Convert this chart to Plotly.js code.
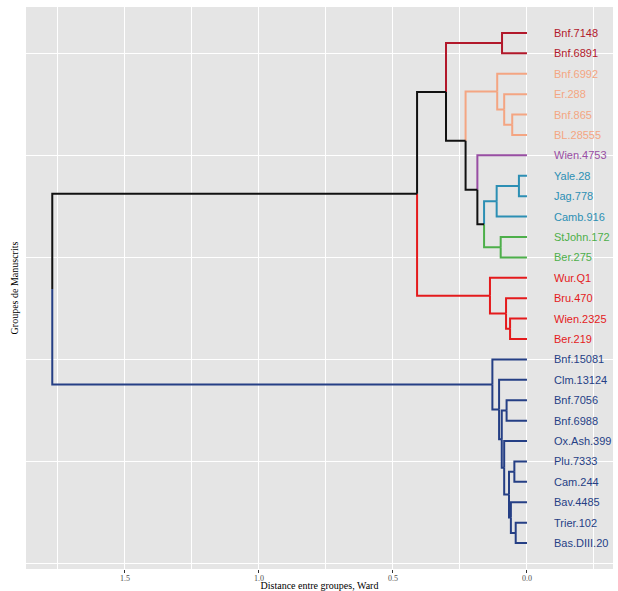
<!DOCTYPE html>
<html>
<head>
<meta charset="utf-8">
<script src="https://cdn.plot.ly/plotly-3.0.1.min.js"></script>
<style>
html,body{margin:0;padding:0;background:#fff;}
#chart{width:618px;height:591px;}
</style>
</head>
<body>
<div id="chart"></div>
<script>
// Leaves, from top to bottom
const leafLabels = ["Bnf.7148","Bnf.6891","Bnf.6992","Er.288","Bnf.865","BL.28555","Wien.4753",
  "Yale.28","Jag.778","Camb.916","StJohn.172","Ber.275","Wur.Q1","Bru.470","Wien.2325","Ber.219",
  "Bnf.15081","Clm.13124","Bnf.7056","Bnf.6988","Ox.Ash.399","Plu.7333","Cam.244","Bav.4485",
  "Trier.102","Bas.DIII.20"];
const leafGroups = [1,1,2,2,2,2,3,4,4,4,5,5,6,6,6,6,7,7,7,7,7,7,7,7,7,7];
const groupColors = ["#B2182B","#F4A582","#984EA3","#2C8FB4","#4DAF4A","#E41A1C","#253F85"];

// hclust-style merges: negative = leaf (1-based), positive = earlier merge (1-based)
const mergeA = [-8,-25,-22,-5,-24,-15, 3,-19,-14,-21,-4,-1, 8,-11,-18,-3, 1,-17,-13,17,-7,16,12,23,24];
const mergeB = [-9,-26,-23,-6,  2,-16, 5,-20,  6,  7, 4,-2,10,-12, 13,11,-10,15,  9,14,20,21,22,19,18];
const mergeHeight = [0.030,0.042,0.047,0.055,0.060,0.063,0.067,0.076,0.078,0.085,0.085,0.093,0.094,
  0.098,0.104,0.111,0.113,0.129,0.138,0.160,0.185,0.229,0.302,0.410,1.771];

const tickVals = [1.5,1.0,0.5,0.0];
const tickText = ["1.5","1.0","0.5","0.0"];

const nLeaves = leafLabels.length;
function leafColor(i){ return groupColors[leafGroups[i-1]-1]; }
const memo = {};
function node(ref){
  if (memo[ref]) return memo[ref];
  let r;
  if (ref < 0){
    const i = -ref;
    r = {y: nLeaves + 1 - i, h: 0, color: leafColor(i)};
  } else {
    const a = node(mergeA[ref-1]), b = node(mergeB[ref-1]);
    r = {y:(a.y+b.y)/2, h: mergeHeight[ref-1], color: a.color===b.color ? a.color : "#111111"};
  }
  memo[ref] = r;
  return r;
}
const segs = {};
for (let k = 1; k <= mergeA.length; k++){
  const p = node(k);
  [mergeA[k-1], mergeB[k-1]].forEach(c => {
    const ch = node(c);
    if (!segs[ch.color]) segs[ch.color] = {x:[], y:[]};
    segs[ch.color].x.push(p.h, p.h, ch.h, null);
    segs[ch.color].y.push(p.y, ch.y, ch.y, null);
  });
}
const traces = Object.keys(segs).map(col => ({
  type:"scatter", mode:"lines", x:segs[col].x, y:segs[col].y,
  line:{color:col, width:2}, hoverinfo:"skip", showlegend:false
}));

const annotations = leafLabels.map((lab,i) => ({
  x:-0.093, y:nLeaves - i, xref:"x", yref:"y", text:lab, showarrow:false,
  xanchor:"left", yanchor:"middle",
  font:{family:"Liberation Sans, Arial, sans-serif", size:11, color:leafColor(i+1)}
}));

const layout = {
  width:618, height:591,
  margin:{l:26, r:5, t:7, b:22},
  paper_bgcolor:"#ffffff", plot_bgcolor:"#E5E5E5",
  showlegend:false,
  xaxis:{
    range:[1.869,-0.321], tickvals:tickVals, ticktext:tickText,
    ticks:"outside", ticklen:3, tickwidth:1, tickcolor:"#333333",
    ticklabelstandoff:-2,
    tickfont:{family:"Liberation Serif, Times New Roman, serif", size:8, color:"#4D4D4D"},
    showgrid:true, gridcolor:"#FFFFFF", gridwidth:1,
    minor:{dtick:0.25, tick0:0, showgrid:true, gridcolor:"#FFFFFF", gridwidth:1, ticks:""},
    zeroline:false, showline:false,
    title:{text:"Distance entre groupes, Ward", standoff:6,
      font:{family:"Liberation Serif, Times New Roman, serif", size:10, color:"#000000"}}
  },
  yaxis:{
    range:[-0.27,27.27], tickvals:[0,5,10,15,20,25], showticklabels:false, ticks:"",
    showgrid:true, gridcolor:"#FFFFFF", gridwidth:1, zeroline:false, showline:false,
    title:{text:"Groupes de Manuscrits", standoff:4,
      font:{family:"Liberation Serif, Times New Roman, serif", size:10, color:"#000000"}}
  },
  annotations:annotations
};
Plotly.newPlot("chart", traces, layout, {displayModeBar:false, staticPlot:true});
</script>
</body>
</html>
